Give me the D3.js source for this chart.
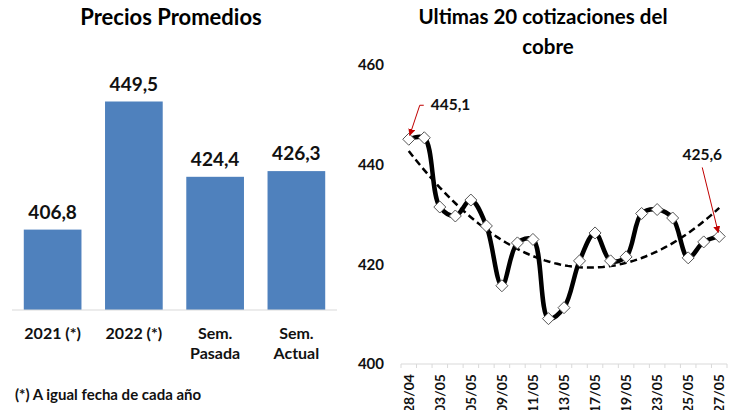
<!DOCTYPE html>
<html lang="es">
<head>
<meta charset="UTF-8">
<title>Cobre</title>
<script src="https://d3js.org/d3.v7.min.js"></script>
<style>
  body { margin: 0; background: #fff; }
  svg { display: block; font-family: Lato, "Open Sans", sans-serif; font-weight: bold; }
</style>
</head>
<body>
<div id="chart"></div>
<script>
// --- data ---
var barCats = ["2021 (*)", "2022 (*)", "Sem. Pasada", "Sem. Actual"];
var barLabels = [["2021 (*)"], ["2022 (*)"], ["Sem.", "Pasada"], ["Sem.", "Actual"]];
var barValues = [406.8, 449.5, 424.4, 426.3];

var dates = ["28/04", "29/04", "03/05", "04/05", "05/05", "06/05", "09/05", "10/05", "11/05", "12/05", "13/05",
             "16/05", "17/05", "18/05", "19/05", "20/05", "23/05", "24/05", "25/05", "26/05", "27/05"];
var copper = [445.1, 445.4, 431.5, 429.7, 432.9, 427.7, 415.7, 424.3, 425.0, 409.1, 411.3,
              420.7, 426.3, 420.7, 421.5, 430.2, 431.0, 429.3, 421.3, 424.5, 425.6];
var yTicks = [400, 420, 440, 460];

var fmt = function(v) { return d3.format(".1f")(v).replace(".", ","); };

var svg = d3.select("#chart").append("svg")
    .attr("width", 738)
    .attr("height", 410);

// ---------- left: bar chart ----------
svg.append("text")
    .attr("x", 171).attr("y", 25)
    .attr("text-anchor", "middle")
    .style("font-size", "22px")
    .text("Precios Promedios");

var xb = d3.scaleBand().domain(barCats).range([12, 337]).paddingInner(0.29).paddingOuter(0.145);
var yb = d3.scaleLinear().domain([380, 480]).range([310, 10]);

svg.selectAll("rect.bar")
  .data(barValues)
  .enter().append("rect")
    .attr("class", "bar")
    .attr("x", function(d, i) { return xb(barCats[i]); })
    .attr("width", xb.bandwidth())
    .attr("y", function(d) { return yb(d); })
    .attr("height", function(d) { return yb(380) - yb(d); })
    .attr("fill", "#4F81BD");

svg.selectAll("text.val")
  .data(barValues)
  .enter().append("text")
    .attr("class", "val")
    .attr("x", function(d, i) { return xb(barCats[i]) + xb.bandwidth() / 2; })
    .attr("y", function(d) { return yb(d) - 11; })
    .attr("text-anchor", "middle")
    .style("font-size", "19px")
    .attr("fill", "#111")
    .text(fmt);

svg.append("line")
    .attr("x1", 12).attr("x2", 337)
    .attr("y1", yb(380)).attr("y2", yb(380))
    .attr("stroke", "#d9d9d9");

barLabels.forEach(function(lines, i) {
  var t = svg.append("text")
      .attr("x", xb(barCats[i]) + xb.bandwidth() / 2)
      .attr("y", 339)
      .attr("text-anchor", "middle")
      .style("font-size", "16px")
      .attr("fill", "#111");
  lines.forEach(function(l, j) {
    t.append("tspan").attr("x", xb(barCats[i]) + xb.bandwidth() / 2).attr("dy", j ? 20 : 0).text(l);
  });
});

svg.append("text")
    .attr("x", 15).attr("y", 400)
    .style("font-size", "15px")
    .attr("fill", "#111")
    .text("(*) A igual fecha de cada año");

// ---------- right: line chart ----------
svg.append("text")
    .attr("x", 543).attr("y", 24)
    .attr("text-anchor", "middle")
    .style("font-size", "20.5px")
    .text("Ultimas 20 cotizaciones del");
svg.append("text")
    .attr("x", 548).attr("y", 54)
    .attr("text-anchor", "middle")
    .style("font-size", "20.5px")
    .text("cobre");

var xl = d3.scaleBand().domain(dates).range([401, 727]);
var yl = d3.scaleLinear().domain([400, 460]).range([364, 65]);
var cx = function(i) { return xl(dates[i]) + xl.bandwidth() / 2; };

// y labels
svg.append("g")
    .attr("transform", "translate(384,0)")
    .call(d3.axisLeft(yl).tickValues(yTicks).tickSize(0).tickPadding(0))
    .call(function(g) {
      g.select(".domain").remove();
      g.selectAll("text").style("font-size", "15px").style("font-weight", "bold")
        .style("font-family", "Lato, sans-serif").attr("fill", "#111");
    });

// x axis line + tick marks between categories
var xg = svg.append("g").attr("transform", "translate(0," + yl(400) + ")");
xg.append("line").attr("x1", 401).attr("x2", 727).attr("stroke", "#d9d9d9");
xg.selectAll("line.tk")
  .data(d3.range(dates.length + 1))
  .enter().append("line")
    .attr("class", "tk")
    .attr("x1", function(i) { return 401 + i * xl.step(); })
    .attr("x2", function(i) { return 401 + i * xl.step(); })
    .attr("y1", 0).attr("y2", 4)
    .attr("stroke", "#d9d9d9");
xg.selectAll("text.dl")
  .data(dates.filter(function(d, i) { return i % 2 === 0; }))
  .enter().append("text")
    .attr("class", "dl")
    .attr("transform", function(d) {
      return "translate(" + (xl(d) + xl.bandwidth() / 2 + 5) + ",10) rotate(-90)";
    })
    .attr("text-anchor", "end")
    .style("font-size", "14px")
    .attr("fill", "#111")
    .text(function(d) { return d; });

// quadratic trend (least squares, like the spreadsheet trendline)
function quadFit(ys) {
  var n = ys.length, s = [0, 0, 0, 0, 0], t = [0, 0, 0];
  ys.forEach(function(y, i) {
    var x = i + 1;
    for (var k = 0; k < 5; k++) s[k] += Math.pow(x, k);
    for (var k2 = 0; k2 < 3; k2++) t[k2] += y * Math.pow(x, k2);
  });
  var A = [[s[0], s[1], s[2], t[0]], [s[1], s[2], s[3], t[1]], [s[2], s[3], s[4], t[2]]];
  for (var c = 0; c < 3; c++) {
    for (var r = c + 1; r < 3; r++) {
      var f = A[r][c] / A[c][c];
      for (var k3 = c; k3 < 4; k3++) A[r][k3] -= f * A[c][k3];
    }
  }
  var b = [0, 0, 0];
  for (var r2 = 2; r2 >= 0; r2--) {
    var v = A[r2][3];
    for (var k4 = r2 + 1; k4 < 3; k4++) v -= A[r2][k4] * b[k4];
    b[r2] = v / A[r2][r2];
  }
  return function(x) { return b[0] + b[1] * x + b[2] * x * x; };
}
var trend = quadFit(copper);
var tx = d3.scaleLinear().domain([1, dates.length]).range([cx(0), cx(dates.length - 1)]);
var trendPts = d3.range(1, dates.length + 0.001, 0.25);

svg.append("path")
    .datum(trendPts)
    .attr("fill", "none")
    .attr("stroke", "#000")
    .attr("stroke-width", 2.5)
    .attr("stroke-dasharray", "7,4")
    .attr("d", d3.line().x(function(x) { return tx(x); }).y(function(x) { return yl(trend(x)); }));

svg.append("path")
    .datum(copper)
    .attr("fill", "none")
    .attr("stroke", "#000")
    .attr("stroke-width", 4.5)
    .attr("stroke-linejoin", "round")
    .attr("d", d3.line().curve(d3.curveCatmullRom)
      .x(function(d, i) { return cx(i); }).y(function(d) { return yl(d); }));

svg.selectAll("path.mk")
  .data(copper)
  .enter().append("path")
    .attr("class", "mk")
    .attr("transform", function(d, i) { return "translate(" + cx(i) + "," + yl(d) + ")"; })
    .attr("d", "M0,-6L6,0L0,6L-6,0Z")
    .attr("fill", "#fff")
    .attr("stroke", "#555")
    .attr("stroke-width", 1);

// callouts
svg.append("defs").append("marker")
    .attr("id", "ah").attr("viewBox", "0 0 10 10")
    .attr("refX", 9).attr("refY", 5)
    .attr("markerWidth", 7).attr("markerHeight", 7)
    .attr("orient", "auto")
  .append("path").attr("d", "M0,0L10,5L0,10Z").attr("fill", "#C00000");

var n = copper.length - 1;
var p0 = [cx(0), yl(copper[0])], p1 = [cx(n), yl(copper[n])];

svg.append("path")
    .attr("d", "M" + (p0[0] + 15) + "," + (p0[1] - 34) + "h-4L" + (p0[0] + 1) + "," + (p0[1] - 4))
    .attr("fill", "none").attr("stroke", "#C00000").attr("stroke-width", 1)
    .attr("marker-end", "url(#ah)");
svg.append("text")
    .attr("x", p0[0] + 22).attr("y", p0[1] - 29)
    .style("font-size", "15.5px").attr("fill", "#111")
    .text(fmt(copper[0]));

svg.append("path")
    .attr("d", "M" + (p1[0] - 17) + "," + (p1[1] - 69) + "L" + (p1[0] - 1) + "," + (p1[1] - 4))
    .attr("fill", "none").attr("stroke", "#C00000").attr("stroke-width", 1)
    .attr("marker-end", "url(#ah)");
svg.append("text")
    .attr("x", p1[0] - 17).attr("y", p1[1] - 76)
    .attr("text-anchor", "middle")
    .style("font-size", "15.5px").attr("fill", "#111")
    .text(fmt(copper[n]));
</script>
</body>
</html>
